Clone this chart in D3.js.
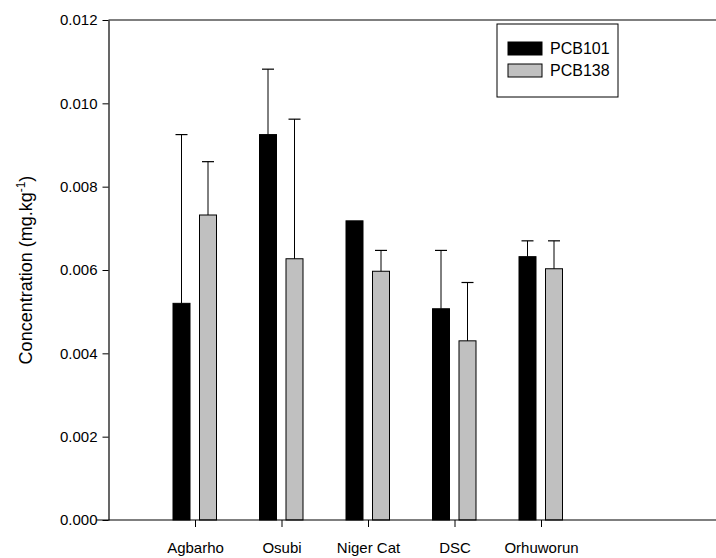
<!DOCTYPE html>
<html><head><meta charset="utf-8">
<script src="https://d3js.org/d3.v7.min.js"></script>
<style>body{margin:0;background:#fff}svg{font-family:"Liberation Sans",Arial,sans-serif}</style>
</head><body><div id="chart"></div>
<script>
const sites = ["Agbarho", "Osubi", "Niger Cat", "DSC", "Orhuworun"];
const pcb101 = [0.0052, 0.00925, 0.00718, 0.00507, 0.00632];
const pcb101Err = [0.00405, 0.00157, 0, 0.0014, 0.00038];
const pcb138 = [0.00732, 0.00627, 0.00597, 0.0043, 0.00603];
const pcb138Err = [0.00128, 0.00335, 0.0005, 0.0014, 0.00067];
const yTicks = [0, 0.002, 0.004, 0.006, 0.008, 0.010, 0.012];

const width = 716, height = 558;
const svg = d3.select("#chart").append("svg").attr("width", width).attr("height", height);

const x = d3.scaleLinear().domain([-1, 6]).range([108.5, 714]);
const y = d3.scaleLinear().domain([0, 0.012]).range([520, 20]);
const barW = 17;

const series = [
  {vals: pcb101, err: pcb101Err, fill: "#000", off: -13.5},
  {vals: pcb138, err: pcb138Err, fill: "#c0c0c0", off: 13}
];

series.forEach(s => {
  const g = svg.append("g");
  g.selectAll("rect").data(s.vals).join("rect")
    .attr("x", (d, i) => x(i) + s.off - barW / 2)
    .attr("y", d => y(d))
    .attr("width", barW)
    .attr("height", d => y(0) - y(d))
    .attr("fill", s.fill)
    .attr("stroke", "#000").attr("stroke-width", 1);
  s.vals.forEach((v, i) => {
    if (!s.err[i]) return;
    const cx = x(i) + s.off;
    g.append("line").attr("x1", cx).attr("x2", cx)
      .attr("y1", y(v)).attr("y2", y(v + s.err[i])).attr("stroke", "#000");
    g.append("line").attr("x1", cx - 6).attr("x2", cx + 6)
      .attr("y1", y(v + s.err[i])).attr("y2", y(v + s.err[i])).attr("stroke", "#000").attr("stroke-width", 1.2);
  });
});

// frame top line
svg.append("line").attr("x1", x(-1)).attr("x2", width).attr("y1", 20).attr("y2", 20).attr("stroke", "#000").attr("stroke-width", 1.2);

const yAxis = svg.append("g").attr("transform", `translate(${x(-1)},0)`)
  .call(d3.axisLeft(y).tickValues(yTicks).tickFormat(d3.format(".3f")).tickSize(6).tickSizeOuter(0));
yAxis.selectAll("text").attr("font-size", 15).attr("fill", "#000").attr("dx", "-2");
yAxis.select(".domain").attr("stroke-width", 1.2);

const xAxis = svg.append("g").attr("transform", `translate(0,${y(0)})`)
  .call(d3.axisBottom(x).tickValues(d3.range(sites.length)).tickFormat(i => sites[i]).tickSize(7).tickSizeOuter(0));
xAxis.selectAll("text").attr("font-size", 15).attr("fill", "#000").attr("dy", "1.5em");
xAxis.select(".domain").attr("d", `M${x(-1) - 12},0H${width}`).attr("stroke-width", 1.2);

const yt = svg.append("text").attr("transform", `translate(32,${y(0.006)}) rotate(-90)`)
  .attr("text-anchor", "middle").attr("font-size", 18);
yt.append("tspan").text("Concentration (mg.kg");
yt.append("tspan").attr("font-size", 12).attr("dy", -7).text("-1");
yt.append("tspan").attr("dy", 7).text(")");

const leg = svg.append("g");
leg.append("rect").attr("x", 497).attr("y", 24).attr("width", 121).attr("height", 73)
  .attr("fill", "#fff").attr("stroke", "#000");
[["PCB101", "#000"], ["PCB138", "#c0c0c0"]].forEach(([n, c], i) => {
  leg.append("rect").attr("x", 508).attr("y", 42 + i * 22).attr("width", 34).attr("height", 13)
    .attr("fill", c).attr("stroke", "#000");
  leg.append("text").attr("x", 550).attr("y", 54 + i * 22).attr("font-size", 16).text(n);
});
</script></body></html>
